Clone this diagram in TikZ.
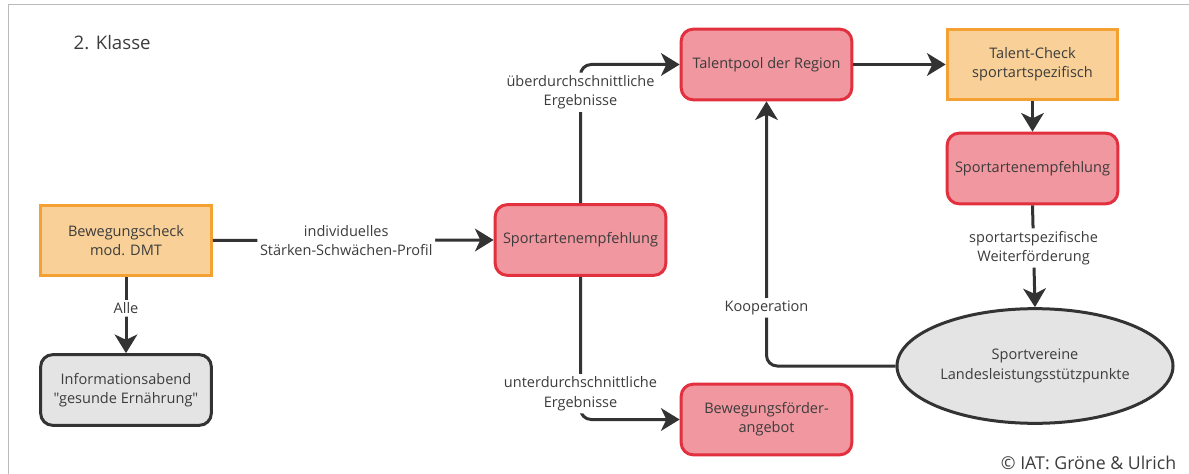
\documentclass[tikz,border=0pt]{standalone}
\usepackage{fontspec}
\setmainfont{Open Sans}[Ligatures=TeXOff]
\usetikzlibrary{shapes.geometric,arrows.meta}
\definecolor{txt}{HTML}{3C3C3C}
\definecolor{dark}{HTML}{333333}
\definecolor{orfill}{HTML}{F8D098}
\definecolor{ordraw}{HTML}{F5A033}
\definecolor{rdfill}{HTML}{F0979F}
\definecolor{rddraw}{HTML}{E2303F}
\definecolor{gyfill}{HTML}{E4E4E4}
\definecolor{frame}{HTML}{BBBBBB}
\begin{document}
\begin{tikzpicture}[x=0.75pt,y=-0.75pt,
  box/.style={minimum width=128pt,minimum height=53pt,align=center,line width=2.25pt,
    text=txt,font=\fontsize{10.9}{14.5}\selectfont,inner sep=0pt},
  orangebox/.style={box,fill=orfill,draw=ordraw},
  redbox/.style={box,rounded corners=9pt,fill=rdfill,draw=rddraw},
  graybox/.style={box,rounded corners=9pt,fill=gyfill,draw=dark},
  ellbox/.style={ellipse,minimum width=207pt,minimum height=86pt,inner sep=0pt,align=center,
    line width=2.25pt,fill=gyfill,draw=dark,text=txt,font=\fontsize{10.9}{14.5}\selectfont},
  conn/.style={draw=dark,line width=2.25pt,rounded corners=8pt,
    -{Stealth[length=14pt,width=17pt,inset=4pt]}},
  lbl/.style={fill=white,inner sep=2pt,align=center,text=txt,font=\fontsize{10.9}{14.5}\selectfont}
]
\useasboundingbox (0,0) rectangle (1189,474);
\draw[frame,line width=1.2pt] (8.5,474) -- (8.5,4.5) -- (1189,4.5);

\node[text=txt,font=\fontsize{14}{16}\selectfont,anchor=west] (title) at (69,43) {2. Klasse};

\node[orangebox] (bc) at (126,240.5) {Bewegungscheck\\mod. DMT};
\node[graybox] (info) at (126,390) {Informationsabend\\"gesunde Ernährung"};
\node[redbox] (se1) at (580.5,240) {Sportartenempfehlung};
\node[redbox] (tp) at (766.5,64.5) {Talentpool der Region};
\node[orangebox] (tc) at (1032.5,64.5) {Talent-Check\\sportartspezifisch};
\node[redbox] (se2) at (1032.5,168.5) {Sportartenempfehlung};
\node[redbox] (bf) at (766.5,419.5) {Bewegungsförder-\\angebot};
\node[ellbox] (ell) at (1035,366) {Sportvereine\\Landesleistungsstützpunkte};

\draw[conn] (bc.east) -- node[lbl,pos=0.475] {individuelles\\Stärken-Schwächen-Profil} (se1.west);
\draw[conn] (bc.south) -- node[lbl,pos=0.41] {Alle} (info.north);
\draw[conn] (se1.north) |- node[lbl,pos=0.40] {überdurchschnittliche\\Ergebnisse} (tp.west);
\draw[conn] (se1.south) |- node[lbl,pos=0.41] {unterdurchschnittliche\\Ergebnisse} (bf.west);
\draw[conn] (tp.east) -- (tc.west);
\draw[conn] (tc.south) -- (se2.north);
\draw[conn] (se2.south) -- node[lbl,pos=0.42] {sportartspezifische\\Weiterförderung} (ell.north);
\draw[conn] (ell.west) -| node[lbl,pos=0.61] {Kooperation} (tp.south);

\node[text=txt,font=\fontsize{13.3}{15}\selectfont,anchor=east] (copy) at (1181,463) {© IAT: Gröne \& Ulrich};
\end{tikzpicture}
\end{document}
